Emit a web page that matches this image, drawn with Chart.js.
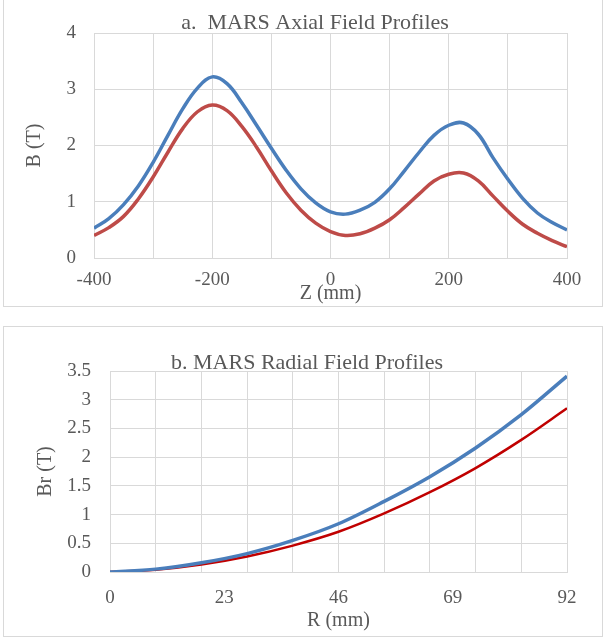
<!DOCTYPE html>
<html>
<head>
<meta charset="utf-8">
<script src="https://cdn.jsdelivr.net/npm/chart.js@4.4.1/dist/chart.umd.min.js"></script>
<style>
  html, body { margin: 0; padding: 0; background: #ffffff; }
  body { width: 605px; height: 638px; position: relative; overflow: hidden; }
  .box { position: absolute; border: 1px solid #d9d9d9; box-sizing: border-box; }
  .wrap { position: absolute; }
</style>
</head>
<body>
<div class="box" style="left:3px; top:-1px; width:600px; height:308px;"></div>
<div class="box" style="left:3px; top:326px; width:600px; height:311px;"></div>
<div class="wrap" style="left:0px; top:0px; width:605px; height:306px;"><canvas id="chartA"></canvas></div>
<div class="wrap" style="left:0px; top:326px; width:605px; height:310px;"><canvas id="chartB"></canvas></div>
<script>
// ---- Chart a: axial field profiles ----
const zAxial = [-400, -375, -350, -325, -300, -275, -250, -225, -200, -175, -150, -125, -100, -75, -50, -25, 0, 25, 50, 75, 100, 125, 150, 175, 200, 225, 250, 275, 300, 325, 350, 375, 400];
const bAxialBlue = [0.53, 0.70, 0.95, 1.28, 1.70, 2.18, 2.65, 3.02, 3.22, 3.10, 2.76, 2.36, 1.95, 1.56, 1.23, 0.98, 0.82, 0.78, 0.85, 0.99, 1.23, 1.55, 1.88, 2.18, 2.36, 2.40, 2.20, 1.78, 1.40, 1.06, 0.80, 0.63, 0.50];
const bAxialRed = [0.40, 0.54, 0.74, 1.05, 1.44, 1.88, 2.30, 2.60, 2.72, 2.62, 2.34, 1.97, 1.55, 1.16, 0.85, 0.62, 0.47, 0.40, 0.43, 0.53, 0.68, 0.90, 1.14, 1.37, 1.49, 1.51, 1.37, 1.10, 0.83, 0.60, 0.44, 0.31, 0.20];
const zTickLabels = [-400, -200, 0, 200, 400];

// ---- Chart b: radial field profiles ----
const rRadial = [0, 9.2, 18.4, 27.6, 36.8, 46, 55.2, 64.4, 73.6, 82.8, 92];
const brRadialBlue = [0.00, 0.05, 0.16, 0.32, 0.55, 0.84, 1.23, 1.66, 2.16, 2.74, 3.41];
const brRadialRed = [0.00, 0.04, 0.13, 0.27, 0.46, 0.70, 1.02, 1.39, 1.81, 2.30, 2.85];
const rTickLabels = [0, 23, 46, 69, 92];

const TXT = '#595959';
const GRID = '#d9d9d9';
const SERIF = '"Liberation Serif", "Times New Roman", serif';

function pts(xs, ys) { return xs.map((x, i) => ({ x: x, y: ys[i] })); }

new Chart(document.getElementById('chartA'), {
  type: 'line',
  data: {
    datasets: [
      { data: pts(zAxial, bAxialBlue), borderColor: '#4a7ebb', borderWidth: 3.5, pointRadius: 0, tension: 0.4, fill: false },
      { data: pts(zAxial, bAxialRed), borderColor: '#be4b48', borderWidth: 3.5, pointRadius: 0, tension: 0.4, fill: false }
    ]
  },
  options: {
    responsive: true, maintainAspectRatio: false, animation: false,
    layout: { padding: { left: 63, right: 38, top: 0, bottom: 0 } },
    plugins: {
      legend: { display: false }, tooltip: { enabled: false },
      title: { display: true, text: 'a.  MARS Axial Field Profiles', color: TXT,
        font: { family: SERIF, size: 22, weight: 'normal' }, padding: { top: 10.5, bottom: -3.9 } }
    },
    scales: {
      x: {
        type: 'linear', min: -400, max: 400,
        afterFit: s => { s.height = 48; },
        ticks: { stepSize: 100, color: TXT, font: { family: SERIF, size: 19 }, padding: 11, maxRotation: 0, autoSkip: false,
          callback: v => zTickLabels.includes(v) ? String(v) : '' },
        grid: { color: GRID, lineWidth: 1, drawTicks: false },
        border: { color: GRID, width: 1 },
        title: { display: true, text: 'Z (mm)', color: TXT, font: { family: SERIF, size: 20 }, padding: { top: 0, bottom: 0 } }
      },
      y: {
        min: 0, max: 4,
        afterFit: s => { s.width = 31; },
        ticks: { stepSize: 1, color: TXT, font: { family: SERIF, size: 19 }, padding: 18 },
        grid: { color: GRID, lineWidth: 1, drawTicks: false },
        border: { color: GRID, width: 1 },
        title: { display: true, text: 'B (T)', color: TXT, font: { family: SERIF, size: 20 }, padding: { top: -40, bottom: 0 } }
      }
    }
  }
});

new Chart(document.getElementById('chartB'), {
  type: 'line',
  data: {
    datasets: [
      { data: pts(rRadial, brRadialBlue), borderColor: '#4a7ebb', borderWidth: 3.5, pointRadius: 0, cubicInterpolationMode: 'monotone', fill: false },
      { data: pts(rRadial, brRadialRed), borderColor: '#c00000', borderWidth: 2.5, pointRadius: 0, cubicInterpolationMode: 'monotone', fill: false }
    ]
  },
  options: {
    responsive: true, maintainAspectRatio: false, animation: false,
    layout: { padding: { left: 47, right: 38, top: 0, bottom: 0 } },
    plugins: {
      legend: { display: false }, tooltip: { enabled: false },
      title: { display: true, text: 'b. MARS Radial Field Profiles', color: TXT,
        font: { family: SERIF, size: 22, weight: 'normal' }, padding: { top: 23.8, bottom: -5.2 } }
    },
    scales: {
      x: {
        type: 'linear', min: 0, max: 92,
        afterFit: s => { s.height = 64; },
        afterBuildTicks: s => {
          const t = [];
          for (let i = 0; i <= 20; i++) t.push({ value: i * 4.6 });
          s.ticks = t;
        },
        ticks: { color: TXT, font: { family: SERIF, size: 19 }, padding: 15, maxRotation: 0, autoSkip: false,
          callback: (v, i) => (i % 5 === 0) ? String(rTickLabels[i / 5]) : '' },
        grid: { color: ctx => (ctx.index % 2 === 0 ? GRID : 'rgba(0,0,0,0)'), lineWidth: 1, drawTicks: false },
        border: { color: GRID, width: 1 },
        title: { display: true, text: 'R (mm)', color: TXT, font: { family: SERIF, size: 20 }, padding: { top: 0, bottom: 3 } }
      },
      y: {
        min: 0, max: 3.5,
        afterFit: s => { s.width = 63; },
        ticks: { stepSize: 0.5, color: TXT, font: { family: SERIF, size: 19 }, padding: 19, callback: v => String(v) },
        grid: { color: GRID, lineWidth: 1, drawTicks: false },
        border: { color: GRID, width: 1 },
        title: { display: true, text: 'Br (T)', color: TXT, font: { family: SERIF, size: 20 }, padding: { top: -13, bottom: 0 } }
      }
    }
  }
});
</script>
</body>
</html>
